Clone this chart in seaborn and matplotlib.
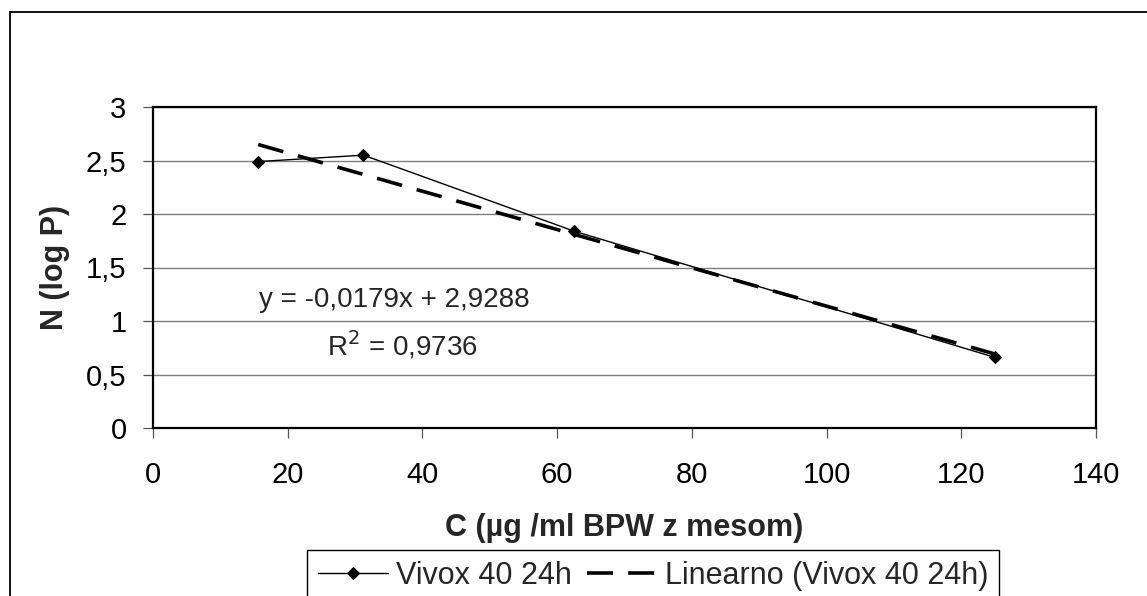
import numpy as np
import pandas as pd
import matplotlib
matplotlib.use("Agg")
import matplotlib.pyplot as plt
from matplotlib.patches import Rectangle
from matplotlib.ticker import FuncFormatter, MultipleLocator
import seaborn as sns

# ---- data ----
conc = [15.625, 31.25, 62.5, 125.0]
logp = [2.49, 2.55, 1.84, 0.66]
series_label = "Vivox 40 24h"
trend_label = "Linearno (Vivox 40 24h)"
slope = -0.0179
intercept = 2.9288
r_squared = 0.9736
x_label = "C (µg /ml BPW z mesom)"
y_label = "N (log P)"

sns.set_theme(style="white")
plt.rcParams["font.family"] = ["Liberation Sans", "DejaVu Sans"]

W, H = 1147, 596
fig = plt.figure(figsize=(W / 100, H / 100), dpi=100)
fig.patch.set_facecolor("white")

# outer chart frame (cut off at right and bottom)
fig.add_artist(Rectangle((10 / W, -0.3), 2.0, 0.3 + 1 - 12 / H,
                         transform=fig.transFigure, fill=False,
                         edgecolor="black", linewidth=1.3, clip_on=False))

L, R, T, B = 153, 1096, 107, 428
ax = fig.add_axes([L / W, 1 - B / H, (R - L) / W, (B - T) / H])

df = pd.DataFrame({"x": conc, "y": logp})
sns.lineplot(data=df, x="x", y="y", ax=ax, color="black", linewidth=1.0,
             marker="D", markersize=6.5, markeredgecolor="black",
             markerfacecolor="black", label=series_label)

xt = np.array([min(conc), max(conc)])
trend = pd.DataFrame({"x": xt, "y": slope * xt + intercept})
sns.lineplot(data=trend, x="x", y="y", ax=ax, color="black", linewidth=2.6,
             linestyle=(0, (7.2, 4.2)), label=trend_label)

ax.set_xlim(0, 140)
ax.set_ylim(0, 3)
ax.xaxis.set_major_locator(MultipleLocator(20))
ax.yaxis.set_major_locator(MultipleLocator(0.5))
ax.yaxis.set_major_formatter(FuncFormatter(lambda v, p: f"{v:g}".replace(".", ",")))
ax.yaxis.grid(True, color="#7f7f7f", linewidth=1.0)
ax.xaxis.grid(False)
for s in ax.spines.values():
    s.set_visible(True)
    s.set_color("black")
    s.set_linewidth(1.6)
ax.tick_params(axis="both", direction="out", length=7, width=0.9,
               color="#555555", labelsize=21, labelcolor="black")
ax.tick_params(axis="y", left=True, pad=12)
ax.tick_params(axis="x", bottom=True, pad=17)

ax.set_xlabel(x_label, fontsize=22, fontweight="bold")
ax.set_ylabel(y_label, fontsize=22, fontweight="bold")
ax.xaxis.set_label_coords(0.5, -(528 - B) / (B - T))
ax.xaxis.label.set_va("center")
ax.yaxis.set_label_coords(-(L - 55) / (R - L), 0.5)
ax.yaxis.label.set_va("center")

eq = f"y = {slope:.4f}x + {intercept:.4f}".replace(".", ",")
r2 = f"R$^2$ = {r_squared:.4f}".replace(".", ",")
ax.text((259 - L) / (R - L), (B - 300) / (B - T), eq, transform=ax.transAxes,
        fontsize=20, va="center", ha="left")
ax.text((327 - L) / (R - L), (B - 345) / (B - T), r2, transform=ax.transAxes,
        fontsize=20, va="center", ha="left")

handles, labels = ax.get_legend_handles_labels()
if ax.legend_:
    ax.legend_.remove()
leg = fig.legend(handles, labels, loc="upper left",
                 bbox_to_anchor=(307 / W, 1 - 550 / H),
                 bbox_transform=fig.transFigure, ncol=2, frameon=True,
                 fancybox=False, edgecolor="black", framealpha=1,
                 prop={"family": ["Liberation Sans"], "size": 22},
                 handlelength=2.3, handletextpad=0.25, columnspacing=0.5,
                 borderpad=0.35, borderaxespad=0)
leg.get_frame().set_linewidth(1.0)

fig.savefig("out.png", dpi=100, facecolor="white")
